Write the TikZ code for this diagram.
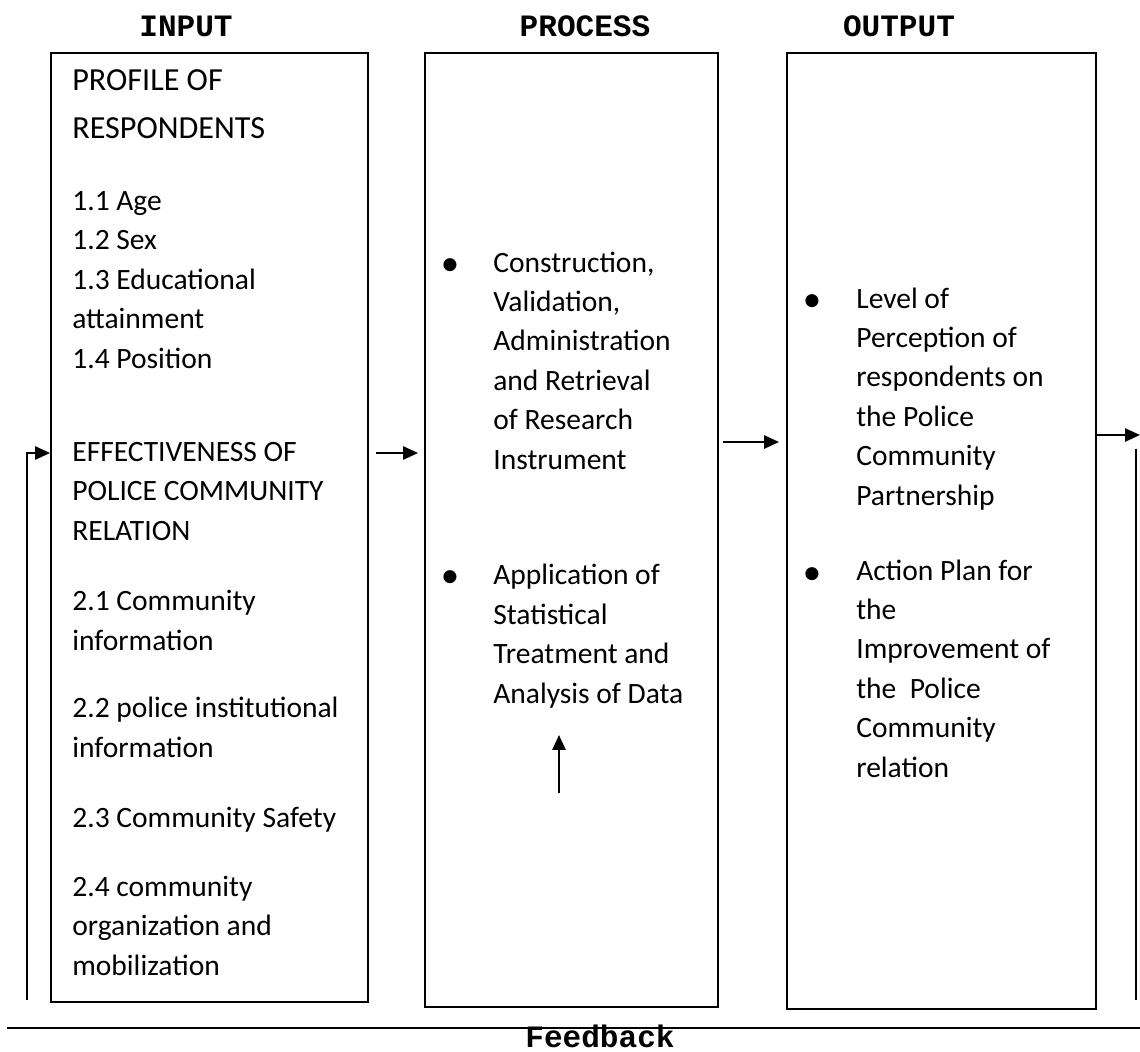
\documentclass[tikz,border=0pt]{standalone}
\usepackage{fontspec}
\setmainfont{Carlito}
\newfontfamily\hdrfont{Liberation Mono}
\usetikzlibrary{arrows.meta}

\tikzstyle{stage}= [rectangle,draw,black,line width=1.1pt,inner sep=0pt]
\tikzstyle{entry}= [anchor=base west,inner sep=0pt,align=left,font=\fontsize{16.8pt}{22.4pt}\selectfont]
\tikzstyle{blt}= [anchor=base,inner sep=0pt,font=\fontsize{21pt}{22.4pt}\selectfont]
\tikzstyle{heading}= [anchor=base,inner sep=0pt,font=\hdrfont\bfseries\fontsize{17.7pt}{20pt}\selectfont]
\tikzstyle{flow}= [black,line width=1.1pt,-{Triangle[length=8.5pt,width=7.5pt]}]
\tikzstyle{link}= [black,line width=1.1pt]

\begin{document}
\begin{tikzpicture}[x=0.02cm,y=-0.02cm]
	\useasboundingbox (0,0) rectangle (1140,1052);

	\node (hin) at (186,36) [heading] {INPUT};
	\node (hpr) at (585,36) [heading] {PROCESS};
	\node (hout) at (899,36) [heading] {OUTPUT};

	\node (inp) at (209.5,527.5) [stage,minimum width=6.34cm,minimum height=18.98cm] {};
	\node (proc) at (571.5,530) [stage,minimum width=5.86cm,minimum height=19.08cm] {};
	\node (out) at (941.5,531) [stage,minimum width=6.18cm,minimum height=19.12cm] {};

	% input (placed by the baseline of the last line)
	\node (prof) at (72,138) [entry,font=\fontsize{18.3pt}{27.2pt}\selectfont] {PROFILE OF\\RESPONDENTS};
	\node (items) at (72,368) [entry] {1.1 Age\\1.2 Sex\\1.3 Educational\\attainment\\1.4 Position};
	\node (eff) at (72,540) [entry] {EFFECTIVENESS OF\\POLICE COMMUNITY\\RELATION};
	\node (c21) at (72,650) [entry] {2.1 Community\\information};
	\node (c22) at (72,757) [entry] {2.2 police institutional\\information};
	\node (c23) at (72,827) [entry] {2.3 Community Safety};
	\node (c24) at (72,975) [entry] {2.4 community\\organization and\\mobilization};

	% process
	\node (bpa) at (450,275) [blt] {•};
	\node (pa) at (493,469) [entry] {Construction,\\Validation,\\Administration\\and Retrieval\\of Research\\Instrument};
	\node (bpb) at (450,587) [blt] {•};
	\node (pb) at (493,703) [entry] {Application of\\Statistical\\Treatment and\\Analysis of Data};

	% output
	\node (boa) at (812,311) [blt] {•};
	\node (oa) at (856,505) [entry] {Level of\\Perception of\\respondents on\\the Police\\Community\\Partnership};
	\node (bob) at (812,584) [blt] {•};
	\node (ob) at (856,777) [entry] {Action Plan for\\the\\Improvement of\\the~ Police\\Community\\relation};

	\coordinate (rowA) at (0,453);
	\coordinate (rowB) at (0,442);
	\coordinate (upT) at (559,793);
	\coordinate (upH) at (559,735);
	\coordinate (fbOut) at (1140,435);
	\coordinate (fbR1) at (1136,449);
	\coordinate (fbR2) at (1136,1000);
	\coordinate (fbL1) at (27,453);
	\coordinate (fbL2) at (27,1000);
	\coordinate (fbA) at (7,1028);
	\coordinate (fbB) at (1140,1028);

	\draw[flow,shorten <=0.14cm,shorten >=0.12cm] (inp.east |- rowA) -- (proc.west |- rowA);
	\draw[flow,shorten <=0.08cm,shorten >=0.14cm] (proc.east |- rowB) -- (out.west |- rowB);
	\draw[flow] (upT) -- (upH);
	\draw[flow] (out.east |- fbOut) -- (fbOut);
	\draw[link] (fbR1) -- (fbR2);
	\draw[flow] (fbL2) -- (fbL1) -- (inp.west |- fbL1);
	\draw[link] (fbA) -- (fbB);

	\node (fb) at (600,1047) [heading] {Feedback};

\end{tikzpicture}
\end{document}
